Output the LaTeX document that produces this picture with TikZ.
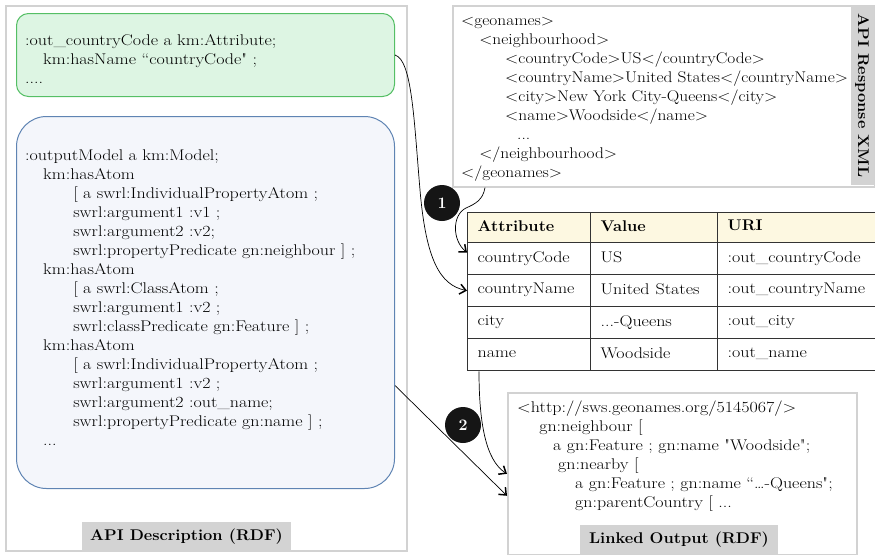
\documentclass[tikz,border=0pt]{standalone}
\usepackage{graphicx}
\usetikzlibrary{arrows.meta}
\definecolor{panelgray}{HTML}{D2D2D2}
\definecolor{greenfill}{HTML}{DDF5E3}
\definecolor{greenline}{HTML}{55BF65}
\definecolor{bluefill}{HTML}{F4F6FB}
\definecolor{blueline}{HTML}{5F84B3}
\definecolor{taggray}{HTML}{D3D3D3}
\definecolor{headfill}{HTML}{FDF8E1}
\definecolor{tableline}{HTML}{333333}
\definecolor{numblack}{HTML}{151515}
\newcommand{\tabstrut}{\rule[-4pt]{0pt}{14pt}}
\newcommand{\widetxt}[1]{\scalebox{1.16}[1]{#1}}
\newcommand{\widebf}[1]{\scalebox{1.06}[1]{#1}}
\newcommand{\sq}{{\XeTeXglyph\XeTeXglyphindex "quotedbl" }}
\begin{document}
\begin{tikzpicture}[x=1pt,y=-1pt,
  font=\fontsize{15.5}{19}\selectfont,
  panel/.style={draw=panelgray,line width=1.6pt,inner sep=0pt,anchor=north west},
  greenbox/.style={draw=greenline,fill=greenfill,line width=1pt,rounded corners=12pt,inner sep=0pt,anchor=north west},
  bluebox/.style={draw=blueline,fill=bluefill,line width=1pt,rounded corners=30pt,inner sep=0pt,anchor=north west},
  txt/.style={anchor=north west,inner sep=0pt,align=left,xscale=1.16},
  xmltxtstyle/.style={anchor=north west,inner sep=0pt,align=left,xscale=1.12},
  tag/.style={fill=taggray,inner sep=0pt,font=\bfseries\fontsize{15.5}{19}\selectfont},
  cell/.style={draw=tableline,line width=1.3pt,anchor=north west,inner xsep=10pt,inner ysep=0pt,align=left},
  num/.style={circle,fill=numblack,text=white,font=\bfseries\fontsize{16}{16}\selectfont,minimum size=36pt,inner sep=0pt},
  conn/.style={line width=0.7pt,-{Straight Barb[length=6pt,width=10pt,line width=1.5pt]}}
]
\useasboundingbox (0,0) rectangle (875,554);

% left panel
\node[panel,minimum width=401,minimum height=545] (leftpanel) at (5,5) {};
\node[greenbox,minimum width=378,minimum height=83] (attr) at (16,13) {};
\node[txt] (attrtxt) at (25,31.7) {\strut:out\_countryCode a km:Attribute;\\
\hspace*{15.5pt}km:hasName “countryCode\sq\ ;\\
....};
\node[bluebox,minimum width=378,minimum height=372] (model) at (16,116) {};
\node[txt] (modeltxt) at (25,146.7) {\strut:outputModel a km:Model;\\
\hspace*{15.5pt}km:hasAtom\\
\hspace*{41.4pt}[ a swrl:IndividualPropertyAtom ;\\
\hspace*{41.4pt}swrl:argument1 :v1 ;\\
\hspace*{41.4pt}swrl:argument2 :v2;\\
\hspace*{41.4pt}swrl:propertyPredicate gn:neighbour ] ;\\
\hspace*{15.5pt}km:hasAtom\\
\hspace*{41.4pt}[ a swrl:ClassAtom ;\\
\hspace*{41.4pt}swrl:argument1 :v2 ;\\
\hspace*{41.4pt}swrl:classPredicate gn:Feature ] ;\\
\hspace*{15.5pt}km:hasAtom\\
\hspace*{41.4pt}[ a swrl:IndividualPropertyAtom ;\\
\hspace*{41.4pt}swrl:argument1 :v2 ;\\
\hspace*{41.4pt}swrl:argument2 :out\_name;\\
\hspace*{41.4pt}swrl:propertyPredicate gn:name ] ;\\
\hspace*{15.5pt}...};
\node[tag,minimum width=209,minimum height=30] (desctag) at (186.5,537) {\widebf{API Description (RDF)}};

% XML panel
\node[panel,minimum width=422,minimum height=181] (xml) at (452,5) {};
\node[tag,rotate=-90,minimum width=179,minimum height=23] (xmltag) at (862,95.5) {\widebf{API Response XML}};
\node[xmltxtstyle] (xmltxt) at (461,11.7) {\strut<geonames>\\
\hspace*{16.1pt}<neighbourhood>\\
\hspace*{39.3pt}<countryCode>US</countryCode>\\
\hspace*{39.3pt}<countryName>United States</countryName>\\
\hspace*{39.3pt}<city>New York City-Queens</city>\\
\hspace*{39.3pt}<name>Woodside</name>\\
\hspace*{50pt}...\\
\hspace*{16.1pt}</neighbourhood>\\
</geonames>};

% table
\node[cell,fill=headfill,text width=103,minimum height=30] (h1) at (467,212) {\tabstrut\widebf{\textbf{Attribute}}};
\node[cell,fill=headfill,text width=107,minimum height=30] (h2) at (590,212) {\tabstrut\widebf{\textbf{Value}}};
\node[cell,fill=headfill,text width=143,minimum height=30] (h3) at (717,212) {\tabstrut\widebf{\textbf{URI}}};
\node[cell,text width=103,minimum height=32] (r1a) at (467,242) {\tabstrut\widetxt{countryCode}};
\node[cell,text width=107,minimum height=32] (r1b) at (590,242) {\tabstrut\widetxt{US}};
\node[cell,text width=143,minimum height=32] (r1c) at (717,242) {\tabstrut\widetxt{:out\_countryCode}};
\node[cell,text width=103,minimum height=32] (r2a) at (467,274) {\tabstrut\widetxt{countryName}};
\node[cell,text width=107,minimum height=32] (r2b) at (590,274) {\tabstrut\widetxt{United States}};
\node[cell,text width=143,minimum height=32] (r2c) at (717,274) {\tabstrut\widetxt{:out\_countryName}};
\node[cell,text width=103,minimum height=32] (r3a) at (467,306) {\tabstrut\widetxt{city}};
\node[cell,text width=107,minimum height=32] (r3b) at (590,306) {\tabstrut\widetxt{...-Queens}};
\node[cell,text width=143,minimum height=32] (r3c) at (717,306) {\tabstrut\widetxt{:out\_city}};
\node[cell,text width=103,minimum height=32] (r4a) at (467,338) {\tabstrut\widetxt{name}};
\node[cell,text width=107,minimum height=32] (r4b) at (590,338) {\tabstrut\widetxt{Woodside}};
\node[cell,text width=143,minimum height=32] (r4c) at (717,338) {\tabstrut\widetxt{:out\_name}};

% linked output panel
\node[panel,minimum width=349,minimum height=162] (linked) at (507,392) {};
\node[txt] (linkedtxt) at (517,398.7) {\strut<http://sws.geonames.org/5145067/>\\
\hspace*{19pt}gn:neighbour [\\
\hspace*{31pt}a gn:Feature ; gn:name \sq Woodside\sq;\\
\hspace*{35.3pt}gn:nearby [\\
\hspace*{50pt}a gn:Feature ; gn:name “\ldots-Queens\sq;\\
\hspace*{50pt}gn:parentCountry [ ...};
\node[tag,minimum width=198,minimum height=29] (linkedtag) at (679,539.5) {\widebf{Linked Output (RDF)}};

% connectors
\draw[conn] (attr.east) .. controls (412,60) and (414,120) .. (420,190) .. controls (426,260) and (440,285) .. (r2a.west);
\draw[conn] ([xshift=33pt]xml.south west) .. controls (483,200) and (475,204) .. (466,208) .. controls (452,215) and (452,240) .. ([yshift=6pt]r1a.west);
\draw[conn] ([xshift=12pt]r4a.south west) .. controls (479,420) and (485,460) .. (linked.west);
\draw[conn] ([yshift=-83pt]model.east) -- ([yshift=-22pt]linked.west);

% step numbers
\node[num] (n1) at (442,203) {1};
\node[num] (n2) at (463,425) {2};
\end{tikzpicture}
\end{document}
